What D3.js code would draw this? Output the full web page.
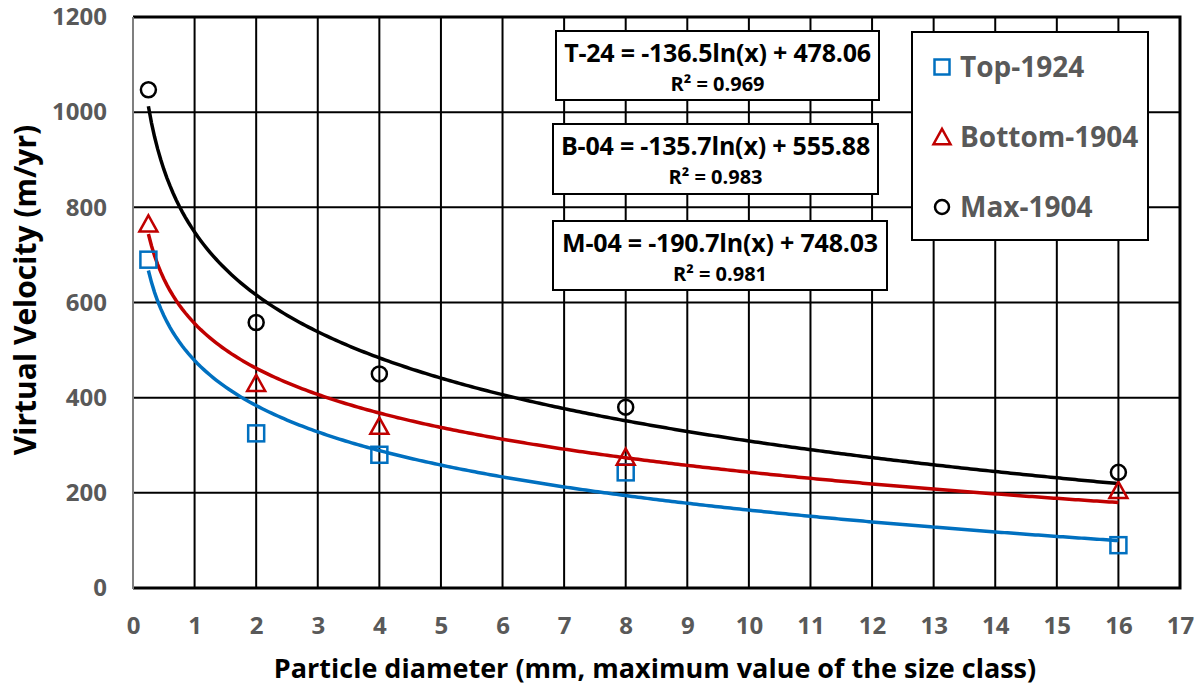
<!DOCTYPE html>
<html>
<head>
<meta charset="utf-8">
<script src="https://cdn.jsdelivr.net/npm/d3@7"></script>
<style>
  body { margin: 0; background: #fff; }
  text { font-family: "Open Sans", sans-serif; font-weight: bold; }
</style>
</head>
<body>
<div id="chart"></div>
<script>
// data
const seriesNames = ["Top-1924", "Bottom-1904", "Max-1904"];
const diameters = [0.25, 2, 4, 8, 16];
const topValues = [690, 325, 280, 243, 90];
const bottomValues = [765, 430, 340, 275, 205];
const maxValues = [1047, 558, 450, 380, 243];

// log trendline coefficients (y = a ln(x) + b) as printed in the chart
const trendLabels = ["T-24", "B-04", "M-04"];
const trendA = [-136.5, -135.7, -190.7];
const trendB = [478.06, 555.88, 748.03];
const trendR2 = ["0.969", "0.983", "0.981"];

const xTicks = d3.range(0, 18);
const yTicks = [0, 200, 400, 600, 800, 1000, 1200];

const colors = ["#0070C0", "#C00000", "#000000"];
const shapes = ["square", "triangle", "circle"];

const width = 1201;
const height = 686;
const margin = { top: 17, right: 21, bottom: 98, left: 133 };

const svg = d3.select("#chart")
  .append("svg")
  .attr("width", width)
  .attr("height", height);

const x = d3.scaleLinear().domain([0, 17]).range([margin.left, width - margin.right]);
const y = d3.scaleLinear().domain([0, 1200]).range([height - margin.bottom, margin.top]);

// grid
svg.append("g")
  .selectAll("line")
  .data(xTicks.slice(1, -1))
  .enter()
  .append("line")
  .attr("x1", (d) => x(d)).attr("x2", (d) => x(d))
  .attr("y1", y(0)).attr("y2", y(1200))
  .attr("stroke", "#000").attr("stroke-width", 2);

svg.append("g")
  .selectAll("line")
  .data(yTicks.slice(1, -1))
  .enter()
  .append("line")
  .attr("x1", x(0)).attr("x2", x(17))
  .attr("y1", (d) => y(d)).attr("y2", (d) => y(d))
  .attr("stroke", "#000").attr("stroke-width", 2);

// frame: top, right, bottom black; left grey
svg.append("path")
  .attr("d", `M${x(0)},${y(1200)}H${x(17)}V${y(0)}H${x(0)}`)
  .attr("fill", "none").attr("stroke", "#000").attr("stroke-width", 3);
svg.append("line")
  .attr("x1", x(0)).attr("x2", x(0))
  .attr("y1", y(1200)).attr("y2", y(0) + 1)
  .attr("stroke", "#7f7f7f").attr("stroke-width", 2);

// axes labels
const xAxis = d3.axisBottom(x).tickValues(xTicks).tickSize(0).tickPadding(29);
svg.append("g")
  .attr("transform", `translate(0,${y(0)})`)
  .call(xAxis)
  .call((g) => g.select(".domain").remove())
  .selectAll("text")
  .attr("font-size", 24).attr("fill", "#595959")
  .attr("font-family", "'Open Sans', sans-serif");

const yAxis = d3.axisLeft(y).tickValues(yTicks).tickFormat(d3.format("d")).tickSize(0).tickPadding(26);
svg.append("g")
  .attr("transform", `translate(${x(0)},0)`)
  .call(yAxis)
  .call((g) => g.select(".domain").remove())
  .selectAll("text")
  .attr("font-size", 24).attr("fill", "#595959")
  .attr("font-family", "'Open Sans', sans-serif");

svg.append("text")
  .attr("x", 655)
  .attr("y", 678)
  .attr("text-anchor", "middle")
  .attr("font-size", 27)
  .text("Particle  diameter (mm, maximum value of the size class)");

svg.append("text")
  .attr("transform", `translate(36,290) rotate(-90)`)
  .attr("text-anchor", "middle")
  .attr("font-size", 30)
  .text("Virtual Velocity (m/yr)");

// trendlines
const curveX = d3.range(0.25, 16.001, 0.05);
const line = d3.line().x((d) => x(d[0])).y((d) => y(d[1]));
trendA.forEach((a, i) => {
  svg.append("path")
    .datum(curveX.map((v) => [v, a * Math.log(v) + trendB[i]]))
    .attr("fill", "none")
    .attr("stroke", colors[i])
    .attr("stroke-width", 3.5)
    .attr("d", line);
});

// markers
const drawMarker = (g, shape, color, cx, cy, s) => {
  if (shape === "square") {
    g.append("rect")
      .attr("x", cx - s / 2).attr("y", cy - s / 2)
      .attr("width", s).attr("height", s)
      .attr("fill", "none").attr("stroke", color).attr("stroke-width", 2.5);
  } else if (shape === "triangle") {
    const h = s * 0.95;
    g.append("path")
      .attr("d", `M${cx},${cy - h / 2 - 1}L${cx + s / 2 + 1},${cy + h / 2}L${cx - s / 2 - 1},${cy + h / 2}Z`)
      .attr("fill", "none").attr("stroke", color).attr("stroke-width", 2.5);
  } else {
    g.append("circle")
      .attr("cx", cx).attr("cy", cy).attr("r", s / 2 - 0.5)
      .attr("fill", "none").attr("stroke", color).attr("stroke-width", 2.5);
  }
};

const allValues = [topValues, bottomValues, maxValues];
const markers = svg.append("g");
allValues.forEach((vals, i) => {
  vals.forEach((v, j) => drawMarker(markers, shapes[i], colors[i], x(diameters[j]), y(v), 16));
});

// equation boxes
const eqBoxes = [
  { x0: 556, y0: 31, w: 323, h: 69 },
  { x0: 553, y0: 124, w: 325, h: 70 },
  { x0: 553, y0: 221, w: 334, h: 69 },
];
trendLabels.forEach((lab, i) => {
  const b = eqBoxes[i];
  const g = svg.append("g");
  g.append("rect")
    .attr("x", b.x0).attr("y", b.y0).attr("width", b.w).attr("height", b.h)
    .attr("fill", "#fff").attr("stroke", "#000").attr("stroke-width", 2);
  g.append("text")
    .attr("x", b.x0 + b.w / 2).attr("y", b.y0 + 31)
    .attr("text-anchor", "middle").attr("font-size", 25)
    .attr("letter-spacing", -0.2)
    .text(`${lab} = ${trendA[i].toFixed(1)}ln(x) + ${trendB[i].toFixed(2)}`);
  g.append("text")
    .attr("x", b.x0 + b.w / 2).attr("y", b.y0 + 60)
    .attr("text-anchor", "middle").attr("font-size", 20)
    .text(`R² = ${trendR2[i]}`);
});

// legend
const leg = svg.append("g");
leg.append("rect")
  .attr("x", 912).attr("y", 32).attr("width", 236).attr("height", 208)
  .attr("fill", "#fff").attr("stroke", "#000").attr("stroke-width", 2);
seriesNames.forEach((name, i) => {
  const cy = 67 + i * 70;
  drawMarker(leg, shapes[i], colors[i], 942, cy, 15);
  leg.append("text")
    .attr("x", 960).attr("y", cy + 10)
    .attr("font-size", 28).attr("fill", "#595959")
    .text(name);
});
</script>
</body>
</html>
